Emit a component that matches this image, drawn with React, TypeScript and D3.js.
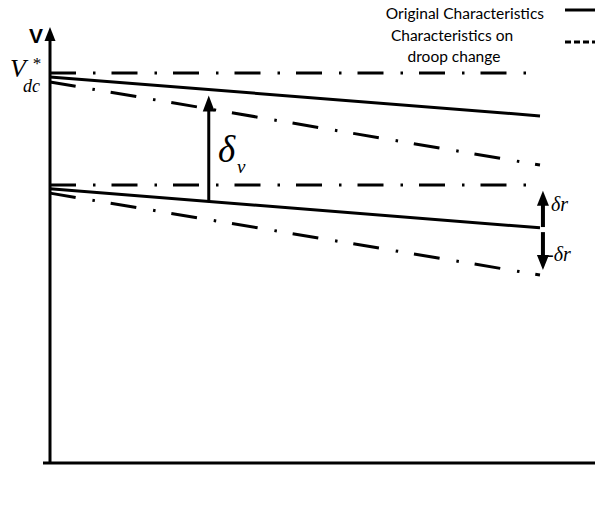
import * as d3 from 'd3';
import React from 'react';

// characteristic lines: [value at x=0, value at x=1] (arbitrary voltage units)
const refUpper = [100, 100];
const origUpper = [99, 89];
const droopUpper = [97.7, 76.4];
const refLower = [71.3, 71.3];
const origLower = [70.3, 60.3];
const droopLower = [69.2, 48.2];

const xPoints = [0, 1];

// δv arrow: x position, from -> to
const deltaVArrow = { x: 0.324, from: 67.3, to: 94.2 };
// δr arrows
const deltaRUp = { x: 1.006, from: 60.5, to: 69.8 };
const deltaRDown = { x: 1.006, from: 59.2, to: 49.5 };

const legendLabels = ['Original Characteristics', 'Characteristics on', 'droop change'];

const width = 595;
const height = 506;

const App = () => {
    const x = d3.scaleLinear().domain([0, 1]).range([50, 540]);
    const y = d3.scaleLinear().domain([0, 100]).range([463, 73]);

    const line = d3.line<[number, number]>()
        .x((d) => x(d[0]))
        .y((d) => y(d[1]));

    const pts = (vals: number[]) => xPoints.map((p, i) => [p, vals[i]] as [number, number]);

    const dashDot = '26 17 2.5 16';

    // arrow head polygon, tip at (px,py)
    const head = (px: number, py: number, dir: number, len: number, w: number) =>
        `${px},${py} ${px - w / 2},${py - dir * len} ${px + w / 2},${py - dir * len}`;

    const arrow = (a: { x: number; from: number; to: number }, len: number, w: number, sw: number) => {
        const ax = x(a.x);
        const y0 = y(a.from);
        const y1 = y(a.to);
        const dir = y1 < y0 ? -1 : 1;
        return (
            <g>
                <line x1={ax} x2={ax} y1={y0} y2={y1 - dir * len * 0.8} stroke="black" strokeWidth={sw} />
                <polygon points={head(ax, y1, dir, len, w)} fill="black" />
            </g>
        );
    };

    return (
        <svg width={width} height={height} style={{ position: 'absolute', left: 0, top: 0, background: 'white' }}>
            {/* axes */}
            <line x1={50} x2={50} y1={463} y2={38} stroke="black" strokeWidth={3} />
            <polygon points="50,27 44.5,41 55.5,41" fill="black" />
            <line x1={43} x2={595} y1={463} y2={463} stroke="black" strokeWidth={3} />

            {/* reference and droop lines */}
            {[refUpper, droopUpper, refLower, droopLower].map((s, i) => (
                <path key={'dd' + i} d={line(pts(s)) || ''} fill="none" stroke="black" strokeWidth={3} strokeDasharray={dashDot} />
            ))}
            {[origUpper, origLower].map((s, i) => (
                <path key={'s' + i} d={line(pts(s)) || ''} fill="none" stroke="black" strokeWidth={3} />
            ))}

            {arrow(deltaVArrow, 16, 12, 3)}
            {arrow(deltaRUp, 15, 12, 4)}
            {arrow(deltaRDown, 15, 12, 4)}

            {/* labels */}
            <text x={36} y={43} fontFamily="Liberation Sans, Arial" fontWeight="bold" fontSize={21} textAnchor="middle">V</text>
            <text x={10} y={77} fontFamily="Liberation Serif" fontStyle="italic" fontSize={26}>V</text>
            <text x={32} y={69} fontFamily="Liberation Serif" fontStyle="italic" fontSize={17}>*</text>
            <text x={23} y={92} fontFamily="Liberation Serif" fontStyle="italic" fontSize={18}>dc</text>

            <text x={218} y={162} fontFamily="Liberation Serif" fontStyle="italic" fontSize={37}>δ</text>
            <text x={237} y={173} fontFamily="Liberation Serif" fontStyle="italic" fontSize={19}>v</text>

            <text x={551} y={211} fontFamily="Liberation Serif" fontStyle="italic" fontSize={20}>δr</text>
            <text x={547} y={261} fontFamily="Liberation Serif" fontStyle="italic" fontSize={20}>-δr</text>

            {/* legend */}
            <text x={544} y={19} fontFamily="Lato, Liberation Sans" fontSize={15.5} textAnchor="end">{legendLabels[0]}</text>
            <text x={452} y={41} fontFamily="Lato, Liberation Sans" fontSize={15.5} textAnchor="middle">{legendLabels[1]}</text>
            <text x={454} y={62} fontFamily="Lato, Liberation Sans" fontSize={15.5} textAnchor="middle">{legendLabels[2]}</text>
            <line x1={565} x2={595} y1={10} y2={10} stroke="black" strokeWidth={3} />
            <line x1={565} x2={595} y1={42} y2={42} stroke="black" strokeWidth={3} strokeDasharray="6 3" />
        </svg>
    );
};

export default App;
